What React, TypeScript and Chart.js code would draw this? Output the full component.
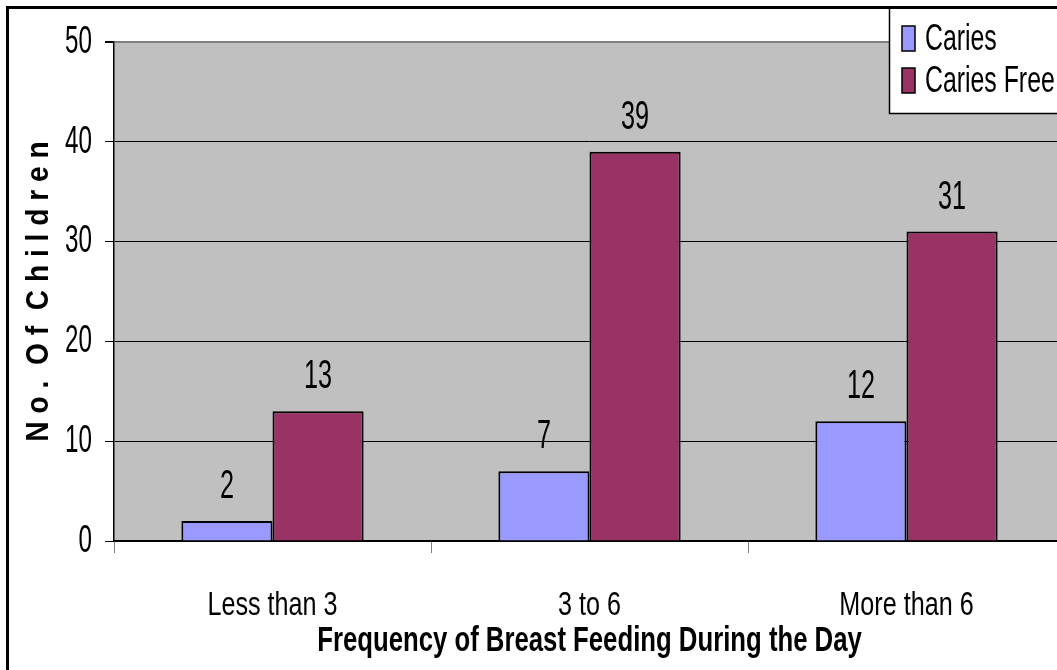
import React, { useEffect, useRef } from 'react';
import { Chart, registerables } from 'chart.js';

Chart.register(...registerables);

const categories = ['Less than 3', '3 to 6', 'More than 6'];
const cariesValues = [2, 7, 12];
const cariesFreeValues = [13, 39, 31];
const seriesNames = ['Caries', 'Caries Free'];
const seriesColors = ['#9999FF', '#993366'];
const yTicks = [0, 10, 20, 30, 40, 50];
const xTitle = 'Frequency of Breast Feeding During the Day';
const yTitle = 'N o .  O f  C h i l d r e n';

const FONT = "'Liberation Sans', Arial, sans-serif";

// horizontal condensing per font (size / weight) to mimic a narrow face
const SCALE: Record<string, number> = {
  '39': 0.62, // y ticks
  '34': 0.74, // x ticks
  'b35': 0.735, // x title
  'b32': 0.88, // y title
  '40': 0.63, // value labels
  '36': 0.69, // legend
};

const plotBgPlugin = {
  id: 'plotBg',
  beforeDraw(chart: any) {
    const { ctx, chartArea } = chart;
    ctx.save();
    ctx.fillStyle = '#C0C0C0';
    ctx.fillRect(chartArea.left, chartArea.top, chartArea.right - chartArea.left, chartArea.bottom - chartArea.top);
    ctx.restore();
  },
};

const valueLabelPlugin = {
  id: 'valueLabels',
  afterDatasetsDraw(chart: any) {
    const ctx = chart.ctx;
    ctx.save();
    ctx.font = `40px ${FONT}`;
    ctx.fillStyle = '#000';
    ctx.textAlign = 'center';
    ctx.textBaseline = 'alphabetic';
    chart.data.datasets.forEach((ds: any, i: number) => {
      const meta = chart.getDatasetMeta(i);
      meta.data.forEach((bar: any, j: number) => {
        ctx.fillText(String(ds.data[j]), bar.x, bar.y - 23);
      });
    });
    ctx.restore();
  },
};

const legendPlugin = {
  id: 'boxLegend',
  afterDraw(chart: any) {
    const ctx = chart.ctx;
    ctx.save();
    ctx.fillStyle = '#fff';
    ctx.fillRect(880, -5, 400, 109);
    ctx.strokeStyle = '#000';
    ctx.lineWidth = 1.5;
    ctx.strokeRect(880.5, -5, 400, 109.5);
    ctx.font = `36px ${FONT}`;
    ctx.textAlign = 'left';
    ctx.textBaseline = 'alphabetic';
    chart.data.datasets.forEach((ds: any, i: number) => {
      const top = 17 + i * 42;
      ctx.fillStyle = ds.backgroundColor;
      ctx.fillRect(893, top, 13, 25);
      ctx.strokeStyle = '#000';
      ctx.lineWidth = 1.5;
      ctx.strokeRect(893, top, 13, 25);
      ctx.fillStyle = '#000';
      ctx.fillText(ds.label, 916, 41 + i * 42);
    });
    ctx.restore();
  },
};

export default function App() {
  const ref = useRef<HTMLCanvasElement | null>(null);

  useEffect(() => {
    const canvas = ref.current;
    if (!canvas) return;
    const c2d = canvas.getContext('2d') as CanvasRenderingContext2D;
    const origFill = c2d.fillText.bind(c2d);
    (c2d as any).fillText = function (text: string, x: number, y: number) {
      const f = c2d.font;
      const m = /(\d+(?:\.\d+)?)px/.exec(f);
      const size = m ? String(Math.round(parseFloat(m[1]))) : '';
      const bold = /bold|700/.test(f);
      const sx = SCALE[(bold ? 'b' : '') + size] ?? 1;
      c2d.save();
      c2d.translate(x, y);
      c2d.scale(sx, 1);
      origFill(text, 0, 0);
      c2d.restore();
    };

    const chart = new Chart(canvas, {
      type: 'bar',
      data: {
        labels: categories,
        datasets: [
          {
            label: seriesNames[0],
            data: cariesValues,
            backgroundColor: seriesColors[0],
            borderColor: '#000',
            borderWidth: 2,
            categoryPercentage: 0.575,
            barPercentage: 1.0,
          },
          {
            label: seriesNames[1],
            data: cariesFreeValues,
            backgroundColor: seriesColors[1],
            borderColor: '#000',
            borderWidth: 2,
            categoryPercentage: 0.575,
            barPercentage: 1.0,
          },
        ],
      },
      options: {
        responsive: false,
        animation: false,
        events: [],
        layout: { padding: { top: 33, right: 64, bottom: 50.5, left: 0 } },
        plugins: {
          legend: { display: false },
          tooltip: { enabled: false },
        },
        scales: {
          x: {
            grid: {
              display: true,
              drawOnChartArea: false,
              drawTicks: true,
              tickLength: 12,
              color: '#808080',
              offset: true,
            },
            border: { display: true, color: '#000', width: 1.5 },
            ticks: {
              font: { family: FONT, size: 34 },
              color: '#000',
              padding: 32.5,
              maxRotation: 0,
              autoSkip: false,
            },
            title: {
              display: true,
              text: xTitle,
              font: { family: FONT, size: 35, weight: 'bold', lineHeight: 1 },
              color: '#000',
              padding: 0,
            },
            afterFit: (s: any) => {
              s.height = 117.5;
            },
          },
          y: {
            min: 0,
            max: 50,
            afterBuildTicks: (s: any) => {
              s.ticks = yTicks.map((v) => ({ value: v }));
            },
            grid: {
              color: (c: any) => (c.tick && c.tick.value === 50 ? '#808080' : '#000'),
              lineWidth: (c: any) => (c.tick && c.tick.value === 50 ? 2 : 1),
              tickLength: 9,
              tickColor: '#000',
            },
            border: { display: true, color: '#000', width: 1.5 },
            ticks: {
              font: { family: FONT, size: 39, lineHeight: 1 },
              color: '#000',
              padding: 13,
              autoSkip: false,
            },
            title: {
              display: true,
              text: yTitle,
              font: { family: FONT, size: 32, weight: 'bold', lineHeight: 1 },
              color: '#000',
              padding: { top: 14.5, bottom: 0 },
            },
            afterFit: (s: any) => {
              s.width = 105;
            },
          },
        },
      },
      plugins: [plotBgPlugin, valueLabelPlugin, legendPlugin],
    });
    return () => {
      chart.destroy();
      (c2d as any).fillText = origFill;
    };
  }, []);

  return (
    <div
      style={{
        position: 'fixed',
        left: 0,
        top: 0,
        width: 1057,
        height: 670,
        overflow: 'hidden',
        background: '#fff',
      }}
    >
      <div
        style={{
          position: 'absolute',
          left: 6,
          top: 6,
          width: 1120,
          height: 700,
          border: '3px solid #000',
        }}
      >
        <canvas ref={ref} width={1120} height={700} style={{ display: 'block' }} />
      </div>
    </div>
  );
}
